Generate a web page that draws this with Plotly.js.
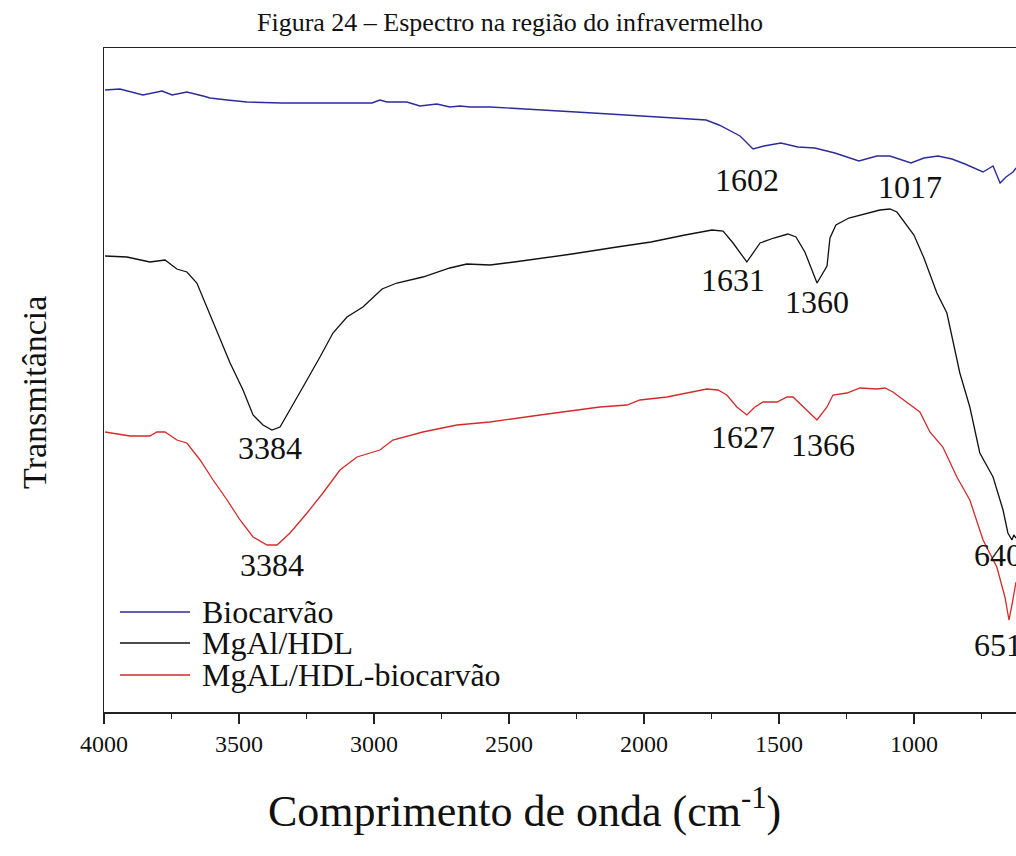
<!DOCTYPE html>
<html>
<head>
<meta charset="utf-8">
<script src="https://cdn.plot.ly/plotly-3.0.1.min.js"></script>
<style>html,body{margin:0;padding:0;background:#fff;}#chart{width:1016px;height:856px;}</style>
</head>
<body>
<div id="chart"></div>
<script>
// Wavenumber (cm-1) and transmittance (arbitrary units)
const bioX = [3996,3941,3856,3785,3748,3693,3633,3607,3544,3470,3341,3007,2978,2952,2878,2830,2767,2719,2681,2644,2570,2356,2189,1948,1770,1722,1644,1596,1556,1493,1430,1367,1293,1204,1137,1089,1011,963,911,859,811,744,707,681,659,633,622];
const bioY = [622,623,617,621,617,620,616,614,612,610,609,609,612,610,610,606,608,605,606,605,605,602,599,595,592,587,576,563,566,569,565,564,559,551,556,556,549,554,556,553,548,540,546,529,535,540,544];

const hdlX = [3996,3915,3830,3774,3730,3693,3656,3619,3581,3533,3485,3448,3411,3378,3348,3311,3263,3200,3152,3100,3041,2970,2915,2819,2719,2656,2570,2481,2341,2267,2100,1974,1848,1748,1707,1670,1619,1570,1519,1467,1437,1404,1359,1322,1311,1289,1241,1178,1126,1089,1063,1000,963,915,878,830,793,756,707,670,652,637,630,622];
const hdlY = [456,455,450,452,443,440,429,405,382,349,322,297,287,282,285,302,325,355,379,395,405,423,429,435,444,448,447,450,455,458,465,470,477,482,481,469,450,469,474,478,475,460,429,446,474,487,494,498,502,503,500,477,454,419,399,339,305,259,235,202,179,172,177,174];

const mixX = [3996,3904,3830,3804,3774,3730,3693,3644,3596,3544,3496,3448,3396,3359,3311,3248,3189,3126,3063,2978,2930,2819,2693,2570,2385,2163,2063,2015,1915,1830,1767,1726,1693,1656,1619,1589,1559,1507,1470,1448,1411,1359,1322,1300,1248,1200,1137,1107,1078,1026,978,941,893,841,793,744,693,663,648,637,626,622];
const mixY = [280,276,276,280,280,272,269,252,232,212,192,175,167,167,179,199,219,242,255,262,272,280,287,290,297,305,307,312,315,320,323,322,317,305,297,305,310,310,315,315,305,292,305,317,319,324,323,324,320,310,300,280,265,235,212,172,145,115,92,107,125,130];

const seriesNames = ["Biocarvão", "MgAl/HDL", "MgAL/HDL-biocarvão"];
const seriesColors = ["#2b2b9e", "#111111", "#d42a2a"];

const peakLabels = ["1602","1017","1631","1360","3384","1627","1366","3384","640","651"];
const peakX = [1619,1015,1670,1359,3385,1633,1337,3378,689,689];
const peakY = [532,525,432,410,264,275,267,147,157,67];

const xTickVals = [4000,3500,3000,2500,2000,1500,1000];
const xTickText = ["4000","3500","3000","2500","2000","1500","1000"];

const serif = "'Liberation Serif', 'Times New Roman', serif";

const xs = [bioX, hdlX, mixX], ys = [bioY, hdlY, mixY];
const traces = xs.map((x, i) => ({
  x: x, y: ys[i], name: seriesNames[i], mode: "lines",
  line: {color: seriesColors[i], width: i === 0 ? 1.4 : 1.3}, showlegend: false
}));

const annotations = peakLabels.map((t, i) => ({
  x: peakX[i], y: peakY[i], xref: "x", yref: "y", text: t, showarrow: false,
  font: {family: serif, size: 32, color: "#111"}, xanchor: "center", yanchor: "middle"
}));
annotations.push({
  xref: "paper", yref: "paper", x: 0.4616, y: -0.1446, xanchor: "center", yanchor: "middle",
  text: "Comprimento de onda (cm<sup>-1</sup>)", showarrow: false,
  font: {family: serif, size: 44, color: "#111"}
});
annotations.push({
  xref: "paper", yref: "paper", x: -0.0757, y: 0.482, xanchor: "center", yanchor: "middle",
  text: "Transmitância", textangle: -90, showarrow: false,
  font: {family: serif, size: 34, color: "#111"}
});

// Legend drawn as line samples + text (paper coords)
const shapes = [];
const legendRowY = [0.1506, 0.1039, 0.0557];
seriesNames.forEach((n, i) => {
  shapes.push({type: "line", xref: "paper", yref: "paper", x0: 0.0175, x1: 0.0943,
               y0: legendRowY[i], y1: legendRowY[i], line: {color: seriesColors[i], width: 1.4}});
  annotations.push({xref: "paper", yref: "paper", x: 0.1053, y: legendRowY[i], xanchor: "left", yanchor: "middle",
                    text: n, showarrow: false, font: {family: serif, size: 32, color: "#111"}});
});

const layout = {
  width: 1016, height: 856,
  margin: {l: 104, r: 0, t: 48, b: 144, pad: 0},
  paper_bgcolor: "#fff", plot_bgcolor: "#fff",
  title: {text: "Figura 24 – Espectro na região do infravermelho", font: {family: serif, size: 26, color: "#111"},
          xref: "container", yref: "container", x: 0.502, y: 0.974, xanchor: "center", yanchor: "middle"},
  xaxis: {
    range: [4000, 622], tickvals: xTickVals, ticktext: xTickText,
    ticks: "outside", ticklen: 10, tickwidth: 1.3, tickcolor: "#222",
    minor: {dtick: 250, tick0: 0, ticks: "outside", ticklen: 5, tickwidth: 1.2, tickcolor: "#222"},
    showline: true, linecolor: "#222", linewidth: 1.5, mirror: true,
    showgrid: false, zeroline: false,
    tickfont: {family: serif, size: 24, color: "#111"}
  },
  yaxis: {
    range: [0, 664], showticklabels: false, ticks: "", showgrid: false, zeroline: false,
    showline: true, linecolor: "#222", linewidth: 1.5
  },
  showlegend: false,
  shapes: shapes,
  annotations: annotations
};

Plotly.newPlot("chart", traces, layout, {displayModeBar: false, staticPlot: true});
</script>
</body>
</html>
